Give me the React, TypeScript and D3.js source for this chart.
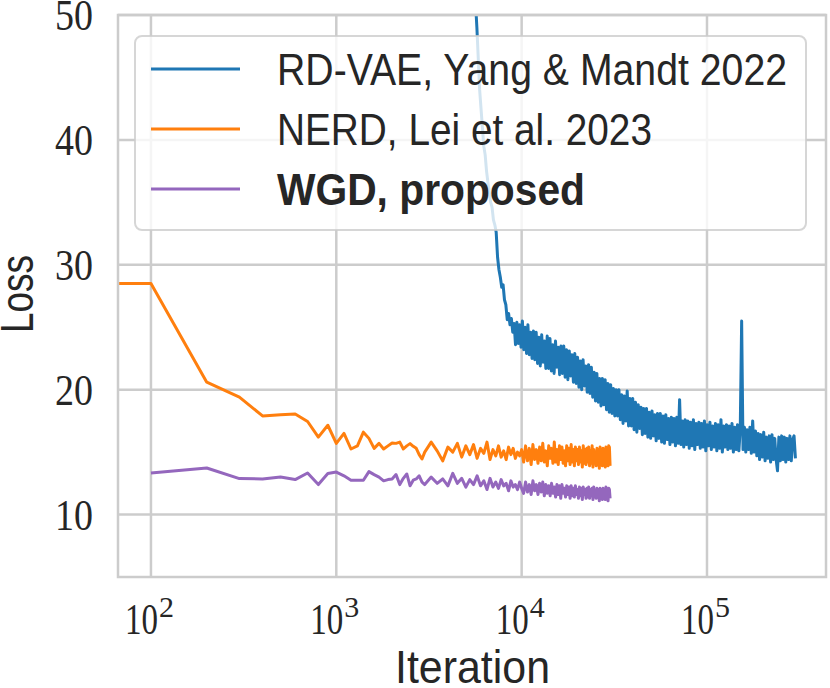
import React, { useRef, useEffect } from 'react';
import * as d3 from 'd3';

// iteration grids (logged every 100 early on, coarser later)
const earlyIters = d3.range(100, 3001, 100);
const midIters = d3.range(3250, 10001, 250);
const lateIters = d3.range(10250, 30001, 250);

// NERD, Lei et al. 2023 (first value is iteration "0", clipped on the log axis)
const nerdStart = 28.5;
const nerdEarly = [
    28.5, 20.6, 19.4, 17.9, 18.0, 18.05, 17.45, 16.2, 17.15, 15.7,
    16.5, 15.25, 15.5, 16.6, 16.1, 15.3, 15.7, 15.25, 15.5, 15.73,
    15.7, 15.8, 15.25, 15.5, 15.68, 15.46, 15.3, 14.8, 14.45, 15.0,
];
const nerdMid = [
    15.8, 15.1, 14.3, 15.4, 15.0, 15.7, 14.6, 15.5, 14.8, 15.6,
    14.5, 15.3, 14.9, 15.8, 14.4, 15.2, 14.7, 15.5, 14.6, 15.1,
    14.4, 15.4, 14.8, 15.3, 14.5, 15.0, 14.7, 15.2,
];
const nerdLate = [
    14.2, 15.5, 14.3, 15.3, 14.0, 15.6, 14.4, 15.2, 14.1, 15.4,
    14.3, 15.7, 14.2, 15.1, 13.9, 15.5, 14.5, 15.3, 14.1, 15.8,
    14.2, 15.2, 14.0, 15.5, 14.4, 15.4, 14.1, 15.1, 13.9, 15.5,
    14.3, 15.3, 14.0, 15.6, 14.2, 15.2, 13.9, 15.4, 14.3, 15.2,
    14.0, 15.4, 14.2, 15.1, 13.8, 15.5, 14.1, 15.2, 14.0, 15.3,
    14.2, 15.4, 13.9, 15.1, 14.1, 15.5, 13.8, 15.2, 14.2, 15.0,
    13.9, 15.3, 14.1, 15.2, 13.7, 15.4, 14.0, 15.1, 13.9, 15.3,
    14.1, 15.1, 13.8, 15.4, 14.0, 15.2, 13.9, 15.5, 15.4, 13.9,
];

// WGD, proposed
const wgdEarly = [
    13.33, 13.73, 12.88, 12.85, 13.0, 12.8, 13.33, 12.4, 13.28, 13.4,
    13.1, 12.75, 12.75, 12.75, 13.44, 13.2, 13.0, 12.7, 12.8, 12.85,
    13.2, 12.4, 12.9, 13.25, 12.3, 12.75, 12.85, 13.1, 12.6, 12.4,
];
const wgdMid = [
    13.0, 12.5, 12.85, 12.3, 13.3, 12.5, 12.9, 12.2, 12.8, 12.4,
    13.1, 12.3, 12.7, 12.0, 12.9, 12.2, 12.6, 12.1, 12.8, 12.3,
    12.5, 11.9, 12.7, 12.2, 12.4, 12.0, 12.6, 12.1,
];
const wgdLate = [
    11.7, 12.6, 11.8, 12.4, 11.6, 12.7, 11.9, 12.4, 11.6, 12.5,
    11.8, 12.6, 11.5, 12.4, 11.7, 12.3, 11.5, 12.5, 11.7, 12.2,
    11.4, 12.4, 11.6, 12.3, 11.3, 12.4, 11.7, 12.1, 11.4, 12.3,
    11.6, 12.2, 11.3, 12.3, 11.5, 12.1, 11.4, 12.3, 11.6, 12.0,
    11.3, 12.2, 11.5, 12.1, 11.2, 12.2, 11.6, 12.0, 11.3, 12.1,
    11.4, 12.2, 11.3, 12.0, 11.5, 12.1, 11.2, 12.2, 11.4, 11.9,
    11.3, 12.1, 11.4, 12.0, 11.1, 12.1, 11.3, 11.9, 11.2, 12.1,
    11.4, 12.0, 11.2, 12.2, 11.3, 11.9, 11.1, 12.1, 12.0, 11.3,
];

// RD-VAE, Yang & Mandt 2022 (log-spaced readings from 5e3 to 3e5)
const rdvaeFirst = 5000;
const rdvaeLast = 300000;
const rdvaeLoss = [
    66, 63, 60, 57, 55.5, 54, 52.5, 51, 49, 46.5,
    44, 42.5, 41, 39.5, 38.8, 37.5, 36.6, 35.8, 35.0, 34.6,
    33.6, 33.2, 32.6, 30.6, 29.6, 29.0, 28.2, 28.4, 27.2, 26.8,
    25.6, 26.1, 25.2, 25.7, 24.6, 25.3, 23.6, 25.4, 23.7, 25.2,
    23.4, 25.5, 23.2, 25.0, 22.9, 25.2, 22.8, 24.6, 22.5, 24.7,
    22.4, 24.6, 22.1, 24.2, 21.9, 24.4, 22.2, 23.9, 21.7, 24.3,
    21.7, 24.1, 21.5, 23.6, 21.3, 23.9, 21.8, 23.4, 21.2, 23.5,
    21.3, 23.5, 21.0, 23.2, 20.8, 23.1, 21.1, 22.8, 20.6, 22.9,
    20.5, 22.6, 20.2, 22.3, 20.0, 22.4, 20.3, 21.9, 19.8, 22.0,
    19.7, 21.8, 19.4, 21.4, 19.1, 21.3, 19.0, 20.9, 18.7, 20.9,
    18.8, 20.8, 18.4, 20.5, 18.2, 20.4, 18.1, 20.1, 17.9, 20.0,
    17.9, 20.0, 17.6, 19.6, 17.3, 19.5, 17.5, 19.9, 17.1, 19.3,
    17.1, 19.3, 16.8, 19.0, 16.6, 18.8, 16.9, 18.6, 16.4, 18.5,
    16.5, 18.5, 16.2, 18.2, 16.1, 18.3, 16.3, 18.0, 15.9, 18.1,
    16.1, 18.1, 15.8, 17.9, 15.7, 18.0, 16.0, 17.7, 15.6, 17.8,
    15.8, 17.7, 15.5, 17.8, 15.7, 19.2, 15.6, 17.5, 15.4, 17.6,
    15.6, 17.5, 15.3, 17.4, 15.5, 17.6, 15.2, 17.3, 15.6, 17.4,
    15.3, 17.3, 15.4, 17.5, 15.1, 17.2, 15.5, 17.4, 15.2, 17.1,
    15.4, 17.3, 15.1, 17.2, 15.3, 17.6, 15.0, 17.1, 15.4, 17.2,
    15.2, 17.1, 15.3, 17.3, 15.0, 17.0, 15.2, 17.2, 15.1, 16.9,
    25.5, 15.2, 17.0, 15.0, 16.8, 15.2, 17.0, 14.9, 17.5, 15.0,
    16.7, 14.7, 16.5, 14.4, 16.4, 14.6, 16.6, 14.3, 16.2, 14.5,
    16.3, 14.2, 16.4, 14.4, 16.1, 14.4, 13.5, 16.2, 14.3, 16.3,
    14.4, 16.2, 14.2, 16.1, 14.4, 16.3, 14.3, 16.0, 16.3, 14.5,
];

const xTicks = [2, 3, 4, 5];
const yTicks = [10, 20, 30, 40, 50];
const legendLabels = ['RD-VAE, Yang & Mandt 2022', 'NERD, Lei et al. 2023', 'WGD, proposed'];
const legendWidths = [510, 375, 308];
const colors = ['#1f77b4', '#ff7f0e', '#9467bd'];

interface Pt { x: number; y: number; }

const zip = (xs: number[], ys: number[]): Pt[] => ys.map((y, i) => ({ x: xs[i], y }));

const LossChart: React.FC = () => {
    const svgRef = useRef<SVGSVGElement | null>(null);

    useEffect(() => {
        if (!svgRef.current) return;
        const svg = d3.select(svgRef.current);
        svg.selectAll('*').remove();

        const width = 830;
        const height = 688;
        const margin = { top: 15, right: 4, bottom: 111, left: 118 };
        const innerWidth = width - margin.left - margin.right;
        const innerHeight = height - margin.top - margin.bottom;

        const xScale = d3.scaleLog().domain([66.4, 438600]).range([0, innerWidth]);
        const yScale = d3.scaleLinear().domain([5, 50]).range([innerHeight, 0]);

        const rdvaeIters = rdvaeLoss.map((_, i) =>
            rdvaeFirst * Math.pow(rdvaeLast / rdvaeFirst, i / (rdvaeLoss.length - 1)));

        const series: Pt[][] = [
            zip(rdvaeIters, rdvaeLoss),
            zip([10, ...earlyIters, ...midIters, ...lateIters], [nerdStart, ...nerdEarly, ...nerdMid, ...nerdLate]),
            zip([...earlyIters, ...midIters, ...lateIters], [...wgdEarly, ...wgdMid, ...wgdLate]),
        ];

        const font = "'Liberation Sans', Arial, sans-serif";
        const serif = "'Liberation Serif', 'Times New Roman', serif";
        const textColor = '#262626';
        const gridColor = '#cccccc';

        svg.append('defs').append('clipPath').attr('id', 'plot-clip')
            .append('rect').attr('width', innerWidth).attr('height', innerHeight);

        const g = svg.append('g').attr('transform', `translate(${margin.left},${margin.top})`);

        // grid
        g.selectAll('.xgrid').data(xTicks).enter().append('line')
            .attr('x1', (d) => xScale(Math.pow(10, d))).attr('x2', (d) => xScale(Math.pow(10, d)))
            .attr('y1', 0).attr('y2', innerHeight)
            .attr('stroke', gridColor).attr('stroke-width', 2.5);
        g.selectAll('.ygrid').data(yTicks).enter().append('line')
            .attr('x1', 0).attr('x2', innerWidth)
            .attr('y1', (d) => yScale(d)).attr('y2', (d) => yScale(d))
            .attr('stroke', gridColor).attr('stroke-width', 2.5);

        const line = d3.line<Pt>().x((d) => xScale(d.x)).y((d) => yScale(d.y));

        const lines = g.append('g').attr('clip-path', 'url(#plot-clip)');
        series.forEach((s, i) => {
            lines.append('path').datum(s)
                .attr('fill', 'none')
                .attr('stroke', colors[i])
                .attr('stroke-width', 3)
                .attr('stroke-linejoin', 'round')
                .attr('d', line);
        });

        // frame
        g.append('rect').attr('width', innerWidth).attr('height', innerHeight)
            .attr('fill', 'none').attr('stroke', gridColor).attr('stroke-width', 2.5);

        // y tick labels
        g.selectAll('.ytick').data(yTicks).enter().append('text')
            .attr('x', -25).attr('y', (d) => yScale(d) + 15)
            .attr('text-anchor', 'end')
            .attr('font-family', serif).attr('font-size', 44)
            .attr('textLength', 38).attr('lengthAdjust', 'spacingAndGlyphs')
            .attr('fill', textColor)
            .text((d) => String(d));

        // x tick labels 10^k
        xTicks.forEach((k) => {
            const cx = xScale(Math.pow(10, k));
            const t = g.append('text')
                .attr('x', cx - 26).attr('y', innerHeight + 57)
                .attr('font-family', serif).attr('fill', textColor);
            t.append('tspan').attr('font-size', 44)
                .attr('textLength', 33).attr('lengthAdjust', 'spacingAndGlyphs').text('10');
            t.append('tspan').attr('font-size', 30).attr('dy', -17).attr('dx', 1)
                .attr('textLength', 15).attr('lengthAdjust', 'spacingAndGlyphs').text(String(k));
        });

        // axis titles
        svg.append('text')
            .attr('transform', 'translate(33,294) rotate(-90)')
            .attr('text-anchor', 'middle')
            .attr('font-family', font).attr('font-size', 46)
            .attr('textLength', 78).attr('lengthAdjust', 'spacingAndGlyphs')
            .attr('fill', textColor).text('Loss');
        svg.append('text')
            .attr('x', 395).attr('y', 683)
            .attr('font-family', font).attr('font-size', 46)
            .attr('textLength', 155).attr('lengthAdjust', 'spacingAndGlyphs')
            .attr('fill', textColor).text('Iteration');

        // legend
        const lg = svg.append('g');
        lg.append('rect')
            .attr('x', 135).attr('y', 36).attr('width', 671).attr('height', 194)
            .attr('rx', 7).attr('ry', 7)
            .attr('fill', 'white').attr('fill-opacity', 0.8)
            .attr('stroke', gridColor).attr('stroke-opacity', 0.8).attr('stroke-width', 2);
        legendLabels.forEach((label, i) => {
            const y = 69 + i * 60;
            lg.append('line')
                .attr('x1', 151).attr('x2', 240).attr('y1', y).attr('y2', y)
                .attr('stroke', colors[i]).attr('stroke-width', 3);
            lg.append('text')
                .attr('x', 277).attr('y', y + 16)
                .attr('font-family', font).attr('font-size', 44)
                .attr('font-weight', i === 2 ? 'bold' : 'normal')
                .attr('textLength', legendWidths[i]).attr('lengthAdjust', 'spacingAndGlyphs')
                .attr('fill', textColor).text(label);
        });
    }, []);

    return (
        <svg ref={svgRef} width={830} height={688}
            style={{ position: 'absolute', left: 0, top: 0, background: 'white' }} />
    );
};

export default function App() {
    return <LossChart />;
}
